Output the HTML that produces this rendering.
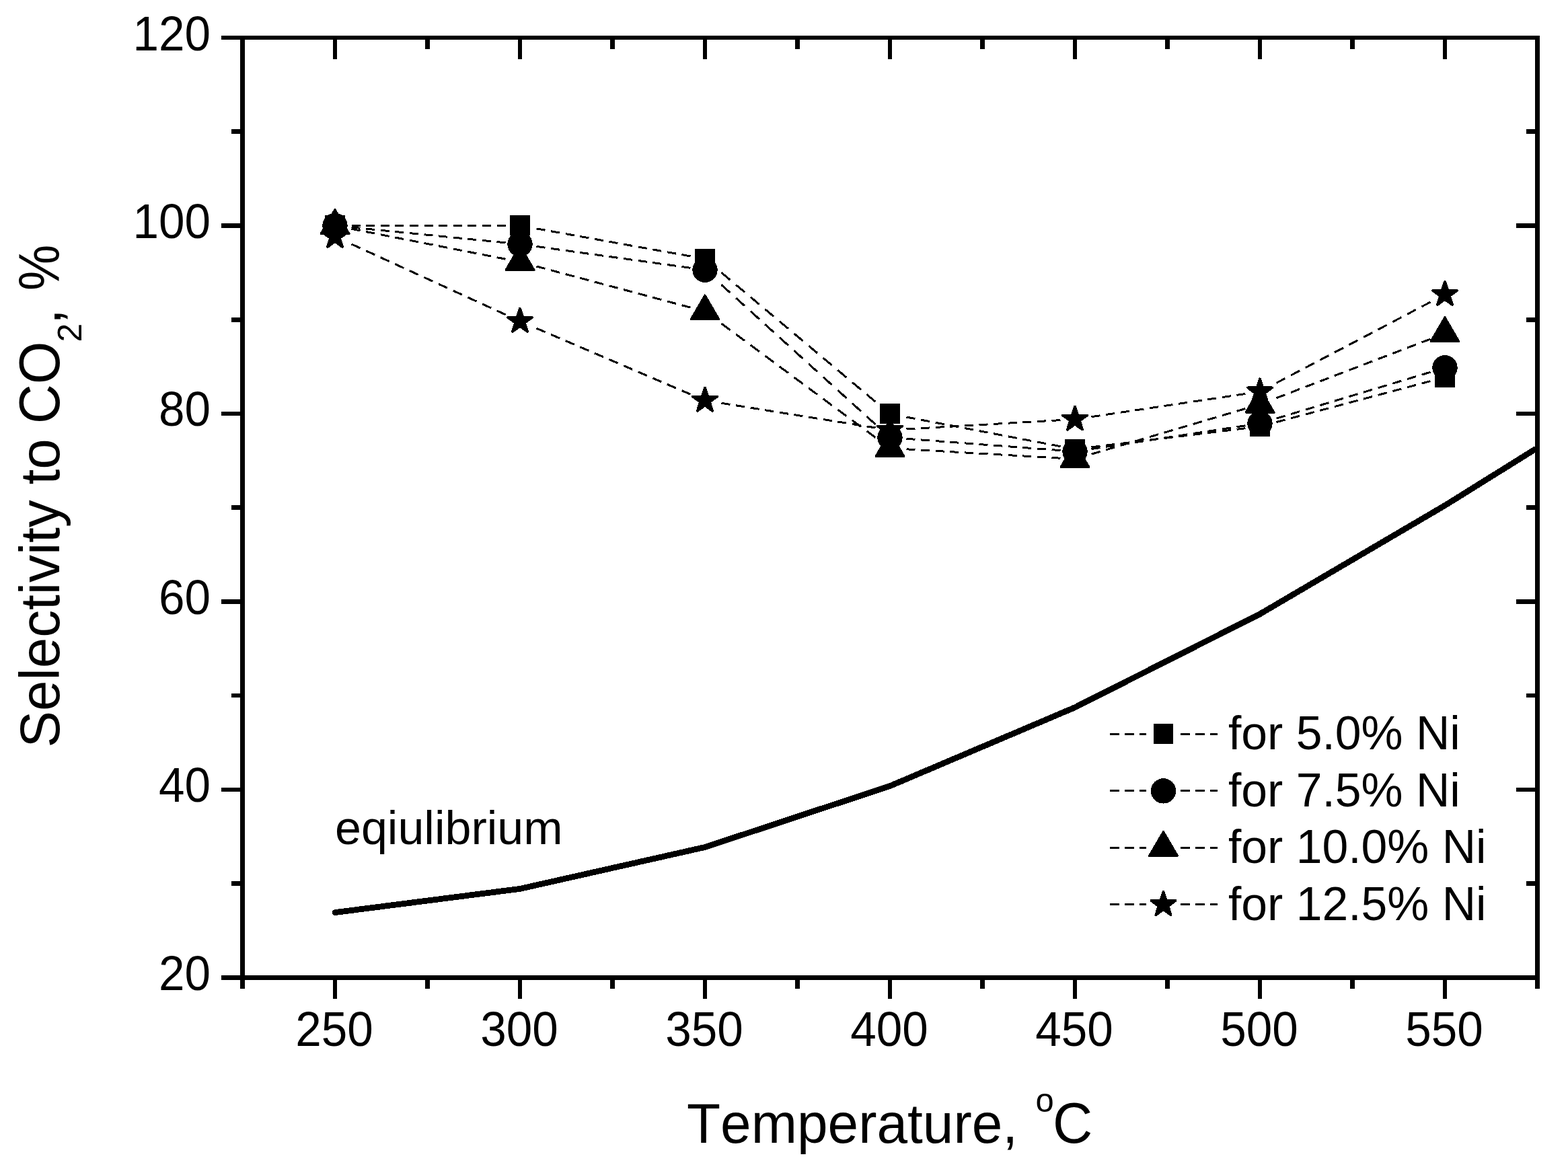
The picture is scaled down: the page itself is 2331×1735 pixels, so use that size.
<!DOCTYPE html>
<html><head><meta charset="utf-8"><title>Selectivity to CO2 vs Temperature</title>
<style>
html,body{margin:0;padding:0;background:#fff;}
body{width:2331px;height:1735px;overflow:hidden;}
svg{display:block;font-kerning:none;shape-rendering:crispEdges;}
</style></head><body>
<svg width="2331" height="1735" viewBox="0 0 2331 1735">
<rect width="2331" height="1735" fill="#fff"/>
<g fill="#000">
<rect x="357" y="53" width="1932" height="6"/>
<rect x="357" y="1449.9" width="1932" height="7"/>
<rect x="357" y="53" width="7" height="1403.9"/>
<rect x="2282" y="53" width="7" height="1403.9"/>
<rect x="357.2" y="1453.4" width="6.6" height="17"/>
<rect x="357.2" y="56" width="6.6" height="17"/>
<rect x="494.7" y="1453.4" width="6.6" height="31.5"/>
<rect x="494.7" y="56" width="6.6" height="31.5"/>
<rect x="632.2" y="1453.4" width="6.6" height="17"/>
<rect x="632.2" y="56" width="6.6" height="17"/>
<rect x="769.7" y="1453.4" width="6.6" height="31.5"/>
<rect x="769.7" y="56" width="6.6" height="31.5"/>
<rect x="907.2" y="1453.4" width="6.6" height="17"/>
<rect x="907.2" y="56" width="6.6" height="17"/>
<rect x="1044.7" y="1453.4" width="6.6" height="31.5"/>
<rect x="1044.7" y="56" width="6.6" height="31.5"/>
<rect x="1182.2" y="1453.4" width="6.6" height="17"/>
<rect x="1182.2" y="56" width="6.6" height="17"/>
<rect x="1319.7" y="1453.4" width="6.6" height="31.5"/>
<rect x="1319.7" y="56" width="6.6" height="31.5"/>
<rect x="1457.2" y="1453.4" width="6.6" height="17"/>
<rect x="1457.2" y="56" width="6.6" height="17"/>
<rect x="1594.7" y="1453.4" width="6.6" height="31.5"/>
<rect x="1594.7" y="56" width="6.6" height="31.5"/>
<rect x="1732.2" y="1453.4" width="6.6" height="17"/>
<rect x="1732.2" y="56" width="6.6" height="17"/>
<rect x="1869.7" y="1453.4" width="6.6" height="31.5"/>
<rect x="1869.7" y="56" width="6.6" height="31.5"/>
<rect x="2007.2" y="1453.4" width="6.6" height="17"/>
<rect x="2007.2" y="56" width="6.6" height="17"/>
<rect x="2144.7" y="1453.4" width="6.6" height="31.5"/>
<rect x="2144.7" y="56" width="6.6" height="31.5"/>
<rect x="2282.2" y="1453.4" width="6.6" height="17"/>
<rect x="2282.2" y="56" width="6.6" height="17"/>
<rect x="329" y="1450.1" width="31.5" height="6.6"/>
<rect x="2254" y="1450.1" width="31.5" height="6.6"/>
<rect x="343.5" y="1310.36" width="17" height="6.6"/>
<rect x="2268.5" y="1310.36" width="17" height="6.6"/>
<rect x="329" y="1170.62" width="31.5" height="6.6"/>
<rect x="2254" y="1170.62" width="31.5" height="6.6"/>
<rect x="343.5" y="1030.88" width="17" height="6.6"/>
<rect x="2268.5" y="1030.88" width="17" height="6.6"/>
<rect x="329" y="891.14" width="31.5" height="6.6"/>
<rect x="2254" y="891.14" width="31.5" height="6.6"/>
<rect x="343.5" y="751.4" width="17" height="6.6"/>
<rect x="2268.5" y="751.4" width="17" height="6.6"/>
<rect x="329" y="611.66" width="31.5" height="6.6"/>
<rect x="2254" y="611.66" width="31.5" height="6.6"/>
<rect x="343.5" y="471.92" width="17" height="6.6"/>
<rect x="2268.5" y="471.92" width="17" height="6.6"/>
<rect x="329" y="332.18" width="31.5" height="6.6"/>
<rect x="2254" y="332.18" width="31.5" height="6.6"/>
<rect x="343.5" y="192.44" width="17" height="6.6"/>
<rect x="2268.5" y="192.44" width="17" height="6.6"/>
<rect x="329" y="52.7" width="31.5" height="6.6"/>
<rect x="2254" y="52.7" width="31.5" height="6.6"/>
</g>
<g font-family='"Liberation Sans", Arial, sans-serif' font-size="70" fill="#000">
<text transform="translate(313 1471.9) scale(0.99 1.04)" text-anchor="end">20</text>
<text transform="translate(313 1192.42) scale(0.99 1.04)" text-anchor="end">40</text>
<text transform="translate(313 912.94) scale(0.99 1.04)" text-anchor="end">60</text>
<text transform="translate(313 633.46) scale(0.99 1.04)" text-anchor="end">80</text>
<text transform="translate(313 353.98) scale(0.99 1.04)" text-anchor="end">100</text>
<text transform="translate(313 74.5) scale(0.99 1.04)" text-anchor="end">120</text>
<text transform="translate(497 1554.5) scale(0.99 1.04)" text-anchor="middle">250</text>
<text transform="translate(772 1554.5) scale(0.99 1.04)" text-anchor="middle">300</text>
<text transform="translate(1047 1554.5) scale(0.99 1.04)" text-anchor="middle">350</text>
<text transform="translate(1322 1554.5) scale(0.99 1.04)" text-anchor="middle">400</text>
<text transform="translate(1597 1554.5) scale(0.99 1.04)" text-anchor="middle">450</text>
<text transform="translate(1872 1554.5) scale(0.99 1.04)" text-anchor="middle">500</text>
<text transform="translate(2147 1554.5) scale(0.99 1.04)" text-anchor="middle">550</text>
</g>
<text font-family='"Liberation Sans", Arial, sans-serif' font-size="82" fill="#000" transform="translate(1021 1698.8) scale(1 1.015)">Temperature,<tspan x="518.5" y="-44.828" font-size="49">o</tspan></text>
<text font-family='"Liberation Sans", Arial, sans-serif' font-size="82" fill="#000" transform="translate(1565 1698.8) scale(1 1.04)">C</text>
<text font-family='"Liberation Sans", Arial, sans-serif' font-size="82.5" fill="#000" transform="translate(88 1111.6) rotate(-90) scale(0.992 1)">Selectivity to</text>
<text font-family='"Liberation Sans", Arial, sans-serif' font-size="82.5" fill="#000" transform="translate(88 630.3) rotate(-90) scale(0.992 1.04)">CO</text>
<text font-family='"Liberation Sans", Arial, sans-serif' font-size="50" fill="#000" transform="translate(120.5 508.6) rotate(-90) scale(1 1)">2</text>
<text font-family='"Liberation Sans", Arial, sans-serif' font-size="82.5" fill="#000" transform="translate(90 482.1) rotate(-90) scale(0.992 1)">,</text>
<text font-family='"Liberation Sans", Arial, sans-serif' font-size="82.5" fill="#000" transform="translate(88 432.1) rotate(-90) scale(0.93 1.04)">%</text>
<polyline fill="none" stroke="#000" stroke-width="8.8" stroke-linecap="round" stroke-linejoin="round" points="498,1356.6 773,1321.4 1048,1259.5 1323,1168.6 1598,1051.7 1873,912.9 2148,751.5 2282,668"/>
<g font-family='"Liberation Sans", Arial, sans-serif' font-size="70" fill="#000">
<text transform="translate(498 1255) scale(1 1)">eqiulibrium</text>
</g>
<g stroke="#000" stroke-width="3" fill="none">
<line x1="522.5" y1="335.48" x2="754" y2="335.48" stroke-dasharray="13 8.6"/>
<line x1="797.5" y1="339.875" x2="1029" y2="381.4" stroke-dasharray="13.207 8.737"/>
<line x1="1072.5" y1="405.35" x2="1304" y2="599.449" stroke-dasharray="16.965 11.223"/>
<line x1="1347.5" y1="620.048" x2="1579" y2="664.161" stroke-dasharray="13.234 8.755"/>
<line x1="1622.5" y1="664.781" x2="1854" y2="636.431" stroke-dasharray="13.097 8.664"/>
<line x1="1897.5" y1="627.581" x2="2129" y2="565.94" stroke-dasharray="13.453 8.9"/>
<line x1="522.5" y1="337.933" x2="754" y2="361.107" stroke-dasharray="13.065 8.643"/>
<line x1="797.5" y1="366.42" x2="1029" y2="398.652" stroke-dasharray="13.125 8.683"/>
<line x1="1072.5" y1="423.495" x2="1304" y2="633.24" stroke-dasharray="17.542 11.605"/>
<line x1="1347.5" y1="652.309" x2="1579" y2="669.837" stroke-dasharray="13.037 8.625"/>
<line x1="1622.5" y1="667.553" x2="1854" y2="632.38" stroke-dasharray="13.149 8.699"/>
<line x1="1897.5" y1="622.123" x2="2129" y2="552.483" stroke-dasharray="13.575 8.981"/>
<line x1="522.5" y1="340.286" x2="754" y2="385.693" stroke-dasharray="13.248 8.764"/>
<line x1="797.5" y1="395.968" x2="1029" y2="457.844" stroke-dasharray="13.456 8.902"/>
<line x1="1072.5" y1="481.049" x2="1304" y2="652.327" stroke-dasharray="16.171 10.698"/>
<line x1="1347.5" y1="667.816" x2="1579" y2="681.344" stroke-dasharray="13.022 8.615"/>
<line x1="1622.5" y1="675.209" x2="1854" y2="606.745" stroke-dasharray="13.557 8.968"/>
<line x1="1897.5" y1="591.739" x2="2129" y2="503.041" stroke-dasharray="13.922 9.21"/>
<line x1="522.5" y1="362.907" x2="754" y2="468.897" stroke-dasharray="14.298 9.459"/>
<line x1="797.5" y1="488.091" x2="1029" y2="587.257" stroke-dasharray="14.143 9.356"/>
<line x1="1072.5" y1="599.318" x2="1304" y2="636.373" stroke-dasharray="13.165 8.709"/>
<line x1="1347.5" y1="637.983" x2="1579" y2="624.455" stroke-dasharray="13.022 8.615"/>
<line x1="1622.5" y1="619.684" x2="1854" y2="585.099" stroke-dasharray="13.144 8.695"/>
<line x1="1897.5" y1="569.388" x2="2129" y2="447.753" stroke-dasharray="14.685 9.715"/>
</g>
<g fill="#000">
<rect x="483.25" y="320.48" width="29.5" height="30"/>
<rect x="758.25" y="320.48" width="29.5" height="30"/>
<rect x="1033.25" y="369.808" width="29.5" height="30"/>
<rect x="1308.25" y="600.379" width="29.5" height="30"/>
<rect x="1583.25" y="652.782" width="29.5" height="30"/>
<rect x="1858.25" y="619.104" width="29.5" height="30"/>
<rect x="2133.25" y="545.881" width="29.5" height="30"/>
<circle cx="498" cy="335.48" r="18.7"/>
<circle cx="773" cy="363.009" r="18.7"/>
<circle cx="1048" cy="401.298" r="18.7"/>
<circle cx="1323" cy="650.454" r="18.7"/>
<circle cx="1598" cy="671.275" r="18.7"/>
<circle cx="1873" cy="629.493" r="18.7"/>
<circle cx="2148" cy="546.767" r="18.7"/>
<polygon stroke="#000" stroke-width="3" stroke-linejoin="round" points="498,311.48 519,347.48 477,347.48"/>
<polygon stroke="#000" stroke-width="3" stroke-linejoin="round" points="773,365.42 794,401.42 752,401.42"/>
<polygon stroke="#000" stroke-width="3" stroke-linejoin="round" points="1048,438.923 1069,474.923 1027,474.923"/>
<polygon stroke="#000" stroke-width="3" stroke-linejoin="round" points="1323,642.384 1344,678.384 1302,678.384"/>
<polygon stroke="#000" stroke-width="3" stroke-linejoin="round" points="1598,658.454 1619,694.454 1577,694.454"/>
<polygon stroke="#000" stroke-width="3" stroke-linejoin="round" points="1873,577.126 1894,613.126 1852,613.126"/>
<polygon stroke="#000" stroke-width="3" stroke-linejoin="round" points="2148,471.762 2169,507.762 2127,507.762"/>
<polygon stroke="#000" stroke-width="4" stroke-linejoin="round" points="498,332.89 502.221,345.88 515.88,345.88 504.83,353.909 509.05,366.899 498,358.871 486.95,366.899 491.17,353.909 480.12,345.88 493.779,345.88"/>
<polygon stroke="#000" stroke-width="4" stroke-linejoin="round" points="773,458.796 777.221,471.786 790.88,471.786 779.83,479.815 784.05,492.805 773,484.777 761.95,492.805 766.17,479.815 755.12,471.786 768.779,471.786"/>
<polygon stroke="#000" stroke-width="4" stroke-linejoin="round" points="1048,576.596 1052.221,589.586 1065.88,589.587 1054.83,597.616 1059.05,610.606 1048,602.578 1036.95,610.606 1041.17,597.616 1030.12,589.587 1043.779,589.586"/>
<polygon stroke="#000" stroke-width="4" stroke-linejoin="round" points="1323,620.615 1327.221,633.604 1340.88,633.605 1329.83,641.634 1334.05,654.624 1323,646.596 1311.95,654.624 1316.17,641.634 1305.12,633.605 1318.779,633.604"/>
<polygon stroke="#000" stroke-width="4" stroke-linejoin="round" points="1598,604.544 1602.221,617.534 1615.88,617.535 1604.83,625.564 1609.05,638.554 1598,630.526 1586.95,638.554 1591.17,625.564 1580.12,617.535 1593.779,617.534"/>
<polygon stroke="#000" stroke-width="4" stroke-linejoin="round" points="1873,563.461 1877.221,576.451 1890.88,576.451 1879.83,584.48 1884.05,597.47 1873,589.442 1861.95,597.47 1866.17,584.48 1855.12,576.451 1868.779,576.451"/>
<polygon stroke="#000" stroke-width="4" stroke-linejoin="round" points="2148,418.97 2152.221,431.96 2165.88,431.96 2154.83,439.989 2159.05,452.979 2148,444.951 2136.95,452.979 2141.17,439.989 2130.12,431.96 2143.779,431.96"/>
</g>
<g fill="#000">
<rect x="1650" y="1089.9" width="14" height="3"/>
<rect x="1672" y="1089.9" width="13.5" height="3"/>
<rect x="1693.5" y="1089.9" width="10" height="3"/>
<rect x="1755" y="1089.9" width="14" height="3"/>
<rect x="1777" y="1089.9" width="13.5" height="3"/>
<rect x="1798.5" y="1089.9" width="11" height="3"/>
<rect x="1650" y="1174.4" width="14" height="3"/>
<rect x="1672" y="1174.4" width="13.5" height="3"/>
<rect x="1693.5" y="1174.4" width="10" height="3"/>
<rect x="1755" y="1174.4" width="14" height="3"/>
<rect x="1777" y="1174.4" width="13.5" height="3"/>
<rect x="1798.5" y="1174.4" width="11" height="3"/>
<rect x="1650" y="1258.9" width="14" height="3"/>
<rect x="1672" y="1258.9" width="13.5" height="3"/>
<rect x="1693.5" y="1258.9" width="10" height="3"/>
<rect x="1755" y="1258.9" width="14" height="3"/>
<rect x="1777" y="1258.9" width="13.5" height="3"/>
<rect x="1798.5" y="1258.9" width="11" height="3"/>
<rect x="1650" y="1343.4" width="14" height="3"/>
<rect x="1672" y="1343.4" width="13.5" height="3"/>
<rect x="1693.5" y="1343.4" width="10" height="3"/>
<rect x="1755" y="1343.4" width="14" height="3"/>
<rect x="1777" y="1343.4" width="13.5" height="3"/>
<rect x="1798.5" y="1343.4" width="11" height="3"/>
<rect x="1714.75" y="1076.4" width="29.5" height="30"/>
<circle cx="1729.5" cy="1175.9" r="18.7"/>
<polygon stroke="#000" stroke-width="3" stroke-linejoin="round" points="1729.5,1236.4 1750.5,1272.4 1708.5,1272.4"/>
<polygon stroke="#000" stroke-width="4" stroke-linejoin="round" points="1729.5,1326.1 1733.721,1339.09 1747.38,1339.09 1736.33,1347.119 1740.55,1360.11 1729.5,1352.082 1718.45,1360.11 1722.67,1347.119 1711.62,1339.09 1725.279,1339.09"/>
</g>
<g font-family='"Liberation Sans", Arial, sans-serif' font-size="69.7" fill="#000">
<text transform="translate(1826 1114) scale(1 1.02)">for 5.0% Ni</text>
<text transform="translate(1826 1198.8) scale(1 1.02)">for 7.5% Ni</text>
<text transform="translate(1826 1283.4) scale(1 1.02)">for 10.0% Ni</text>
<text transform="translate(1826 1367.8) scale(1 1.02)">for 12.5% Ni</text>
</g>
</svg>
</body></html>
